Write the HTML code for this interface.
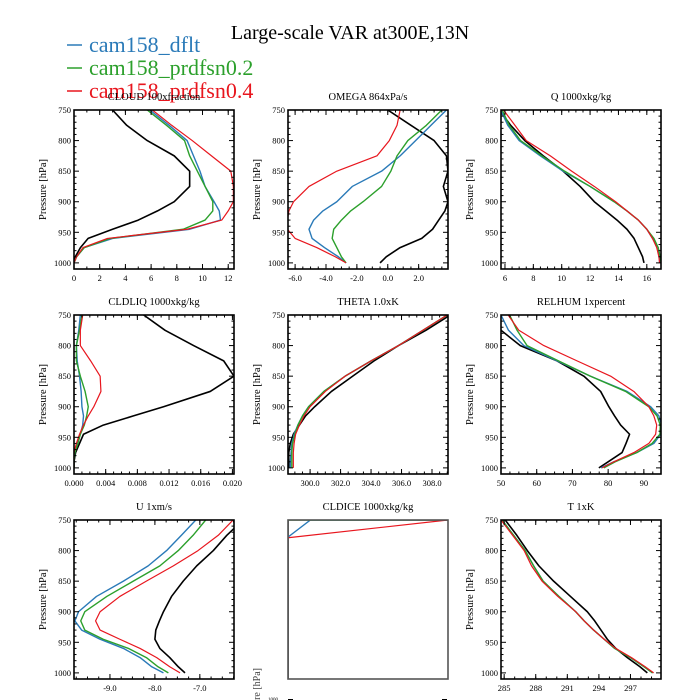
<!DOCTYPE html>
<html><head><meta charset="utf-8">
<style>
html,body{margin:0;padding:0;background:#fff;}
svg{display:block;font-family:"Liberation Serif",serif;}
</style></head>
<body>
<svg id="chart" width="700" height="700" viewBox="0 0 700 700" xmlns="http://www.w3.org/2000/svg">
<text x="350" y="39" font-size="20" text-anchor="middle">Large-scale VAR at300E,13N</text>
<g>
<line x1="67" y1="45" x2="82" y2="45" stroke="#2a7ab8" stroke-width="1.5"/>
<text x="89" y="52" font-size="22" fill="#2a7ab8">cam158_dflt</text>
<line x1="67" y1="68" x2="82" y2="68" stroke="#2ca02c" stroke-width="1.5"/>
<text x="89" y="75" font-size="22" fill="#2ca02c">cam158_prdfsn0.2</text>
<line x1="67" y1="91" x2="82" y2="91" stroke="#e8161e" stroke-width="1.5"/>
<text x="89" y="98" font-size="22" fill="#e8161e">cam158_prdfsn0.4</text>
</g>
</svg>
<script>
var levels = [750,775,800,825,850,875,900,915,930,945,960,975,990,1000];
var seriesNames = ['obs','dflt','prdfsn02','prdfsn04'];
var seriesColors = ['#000000','#2a7ab8','#2ca02c','#e8161e'];

var cloudObs  = [3.0,4.1,5.7,7.8,9.0,9.0,7.8,6.5,5.0,3.0,1.1,0.5,0.1,0];
var cloudDflt = [5.9,7.4,8.8,9.3,9.8,10.2,10.9,11.3,11.4,9.0,3.0,0.8,0.2,0];
var cloudP02  = [5.7,7.2,8.6,9.0,9.6,10.2,10.8,10.8,10.2,8.5,2.8,0.8,0.2,0];
var cloudP04  = [6.1,7.6,9.2,10.7,12.2,12.4,12.4,12.0,11.5,8.8,2.6,0.7,0.2,0];

var omegaObs  = [0.0,1.5,3.0,3.8,3.9,3.6,3.9,3.7,3.3,2.9,2.2,0.8,-0.1,-0.5];
var omegaDflt = [3.8,2.8,1.8,0.8,-0.4,-2.3,-3.3,-4.2,-4.8,-5.1,-4.9,-4.1,-3.2,-2.7];
var omegaP02  = [3.5,2.5,1.3,0.6,0.2,-0.4,-1.6,-2.4,-3.0,-3.5,-3.6,-3.3,-3.0,-2.7];
var omegaP04  = [0.8,0.6,0.1,-0.7,-3.3,-5.1,-6.1,-6.4,-6.5,-6.5,-6.0,-4.6,-3.4,-2.7];

var qObs  = [5.6,6.4,7.4,8.7,10.1,11.3,12.3,13.1,13.9,14.6,15.1,15.4,15.7,15.8];
var qDflt = [5.7,6.2,7.0,8.5,10.1,12.0,13.7,14.6,15.4,16.0,16.4,16.8,16.9,16.9];
var qP02  = [5.8,6.3,7.1,8.6,10.2,12.0,13.7,14.6,15.4,16.0,16.5,16.8,16.95,17.0];
var qP04  = [5.9,6.7,7.5,9.2,10.7,12.3,13.8,14.6,15.4,16.0,16.4,16.7,16.85,16.9];

var liqObs  = [0.0088,0.0115,0.0151,0.0189,0.0202,0.0172,0.0113,0.0075,0.0037,0.0012,0.0007,0.0002,0,0];
var liqDflt = [0.0008,0.0006,0.0003,0.0004,0.0007,0.0009,0.0010,0.0012,0.0011,0.0008,0.0004,0.0001,0,0];
var liqP02  = [0.0010,0.0007,0.0003,0.0003,0.0008,0.0014,0.0018,0.0016,0.0013,0.0008,0.0005,0.0001,0,0];
var liqP04  = [0.0011,0.0008,0.0008,0.0021,0.0033,0.0034,0.0025,0.0018,0.0012,0.0007,0.0003,0,0,0];

var thetaObs  = [309.2,307.6,305.8,304.2,302.8,301.4,300.3,299.7,299.3,298.9,298.7,298.6,298.6,298.6];
var thetaDflt = [309.0,307.4,305.8,304.0,302.3,300.9,299.9,299.5,299.2,298.95,298.8,298.75,298.7,298.7];
var thetaP02  = [309.0,307.4,305.8,304.0,302.3,300.9,299.9,299.5,299.2,299.0,298.85,298.8,298.8,298.8];
var thetaP04  = [309.0,307.4,305.8,304.0,302.3,301.0,300.0,299.6,299.3,299.05,298.95,298.9,298.9,298.9];

var rhObs  = [47.5,50,55.4,65.7,73.2,77.9,80.2,81.8,83.5,86.0,85.0,83.9,80.0,77.4];
var rhDflt = [50.0,52.1,56.4,65.7,75.0,85.3,91.9,94.2,95.0,94.7,92.8,88.0,81.6,78.0];
var rhP02  = [52.4,54.5,57.3,66.1,75.0,84.9,91.4,93.7,94.6,94.5,92.3,88.0,82.0,78.8];
var rhP04  = [52.0,55.0,62.0,71.3,80.7,87.2,91.4,92.8,93.6,93.3,91.4,87.2,81.6,78.3];

var uObs  = [-6.04,-6.4,-6.7,-7.07,-7.37,-7.63,-7.81,-7.9,-7.98,-8.0,-7.89,-7.67,-7.48,-7.33];
var uDflt = [-7.09,-7.41,-7.74,-8.15,-8.7,-9.3,-9.7,-9.78,-9.63,-9.22,-8.7,-8.33,-8.07,-7.81];
var uP02  = [-6.87,-7.15,-7.48,-7.89,-8.48,-9.07,-9.56,-9.65,-9.56,-9.15,-8.59,-8.19,-7.93,-7.7];
var uP04  = [-6.26,-6.59,-7.04,-7.59,-8.19,-8.78,-9.22,-9.32,-9.22,-8.78,-8.33,-7.96,-7.67,-7.44];

var iceLevelsObs = [750,1010];   var iceObs  = [0,0];
var iceLevelsDflt = [778,750,750]; var iceDflt = [0,0.14,1];
var iceLevelsP02 = [750,750];    var iceP02  = [0,1];
var iceLevelsP04 = [779,750];    var iceP04  = [0,1];

var tObs  = [285.1,286.2,287.2,288.3,289.7,291.3,292.9,293.6,294.2,294.8,295.6,296.7,297.9,298.6];
var tDflt = [284.8,285.9,287.0,287.8,288.7,290.2,291.8,292.6,293.5,294.5,295.5,297.0,298.3,299.1];
var tP02  = [284.8,285.9,287.0,287.8,288.7,290.2,291.8,292.6,293.5,294.5,295.5,297.0,298.3,299.1];
var tP04  = [284.7,285.8,286.9,287.6,288.6,290.1,291.8,292.6,293.5,294.5,295.6,297.1,298.4,299.2];

var cloudTicks = [0,2,4,6,8,10,12];
var omegaTicks = [-6,-4,-2,0,2];
var qTicks = [6,8,10,12,14,16];
var liqTicks = [0,0.004,0.008,0.012,0.016,0.020];
var thetaTicks = [300,302,304,306,308];
var rhTicks = [50,60,70,80,90];
var uTicks = [-9,-8,-7];
var tTicks = [285,288,291,294,297];
var pressureTicks = [750,800,850,900,950,1000];

var panels = [
 {name:'cloud', title:'CLOUD  100xfraction', col:0,row:0, xmin:0,xmax:12.45, ticks:cloudTicks, dec:0, minor:1, data:[cloudObs,cloudDflt,cloudP02,cloudP04]},
 {name:'omega', title:'OMEGA  864xPa/s', col:1,row:0, xmin:-6.46,xmax:3.9, ticks:omegaTicks, dec:1, minor:0.5, data:[omegaObs,omegaDflt,omegaP02,omegaP04]},
 {name:'q', title:'Q  1000xkg/kg', col:2,row:0, xmin:5.72,xmax:17.0, ticks:qTicks, dec:0, minor:0.5, data:[qObs,qDflt,qP02,qP04]},
 {name:'cldliq', title:'CLDLIQ  1000xkg/kg', col:0,row:1, xmin:0,xmax:0.0202, ticks:liqTicks, dec:3, minor:0.001, data:[liqObs,liqDflt,liqP02,liqP04]},
 {name:'theta', title:'THETA  1.0xK', col:1,row:1, xmin:298.55,xmax:309.05, ticks:thetaTicks, dec:1, minor:0.5, data:[thetaObs,thetaDflt,thetaP02,thetaP04]},
 {name:'relhum', title:'RELHUM  1xpercent', col:2,row:1, xmin:50,xmax:94.8, ticks:rhTicks, dec:0, minor:2.5, data:[rhObs,rhDflt,rhP02,rhP04]},
 {name:'u', title:'U  1xm/s', col:0,row:2, xmin:-9.8,xmax:-6.24, ticks:uTicks, dec:1, minor:0.25, data:[uObs,uDflt,uP02,uP04]},
 {name:'cldice', title:'CLDICE  1000xkg/kg', col:1,row:2, xmin:0,xmax:1, ticks:[], dec:0, minor:0, noY:true, data:[iceObs,iceDflt,iceP02,iceP04], lev:[iceLevelsObs,iceLevelsDflt,iceLevelsP02,iceLevelsP04]},
 {name:'t', title:'T  1xK', col:2,row:2, xmin:284.7,xmax:299.9, ticks:tTicks, dec:0, minor:1, data:[tObs,tDflt,tP02,tP04]}
];

var NS='http://www.w3.org/2000/svg';
var svg=document.getElementById('chart');
var colX=[74,288,501], rowY=[110,315,520], W=160, pMin=750, pMax=1010, H=159;
function mk(tag,attrs,parent){var e=document.createElementNS(NS,tag);for(var k in attrs)e.setAttribute(k,attrs[k]);(parent||svg).appendChild(e);return e;}

panels.forEach(function(pn,pi){
  var x0=colX[pn.col], y0=rowY[pn.row];
  var xs=function(v){return x0+(v-pn.xmin)/(pn.xmax-pn.xmin)*W;};
  var ys=function(p){return y0+(p-pMin)/(pMax-pMin)*H;};
  var g=mk('g',{});
  
  
  var cp=mk('clipPath',{id:'clip'+pi},g);
  mk('rect',{x:x0,y:y0,width:W,height:H},cp);
  var t=mk('text',{x:x0+W/2,y:y0-10,'font-size':'10.5','text-anchor':'middle'},g);
  t.textContent=pn.title;
  
  
  pn.data.forEach(function(arr,si){
    var lv=pn.lev?pn.lev[si]:levels;
    var d=arr.map(function(v,i){return (i?'L':'M')+xs(v).toFixed(2)+','+ys(lv[i]).toFixed(2);}).join(' ');
    var path=mk('path',{d:d,fill:'none',stroke:seriesColors[si],'stroke-width':si==0?1.6:(si==3?1.2:1.4),'clip-path':'url(#clip'+pi+')','stroke-linejoin':'round'},g);
    
    
  });
  var fr=mk('rect',{x:x0,y:y0,width:W,height:H,fill:'none',stroke:pn.noY?'#555':'#000','stroke-width':1.6},g);
  
  
  if(!pn.noY){
    for(var p=750;p<=1010;p+=10){
      var major=(p%50==0), L=major?5:2.5;
      mk('line',{x1:x0,x2:x0+L,y1:ys(p),y2:ys(p),stroke:'#000','stroke-width':1},g);
      mk('line',{x1:x0+W,x2:x0+W-L,y1:ys(p),y2:ys(p),stroke:'#000','stroke-width':1},g);
    }
    pressureTicks.forEach(function(p){
      var tl=mk('text',{x:x0-3,y:ys(p)+3,'font-size':'8.5','text-anchor':'end'},g);
      tl.textContent=p;
      
      
    });
    var yl=mk('text',{x:0,y:0,'font-size':'10.5','text-anchor':'middle',transform:'translate('+(x0-28)+','+(y0+H/2)+') rotate(-90)'},g);
    yl.textContent='Pressure [hPa]';
    
    
    if(pn.minor){
      var start=Math.ceil(pn.xmin/pn.minor)*pn.minor;
      for(var v=start;v<=pn.xmax+1e-9;v+=pn.minor){
        mk('line',{x1:xs(v),x2:xs(v),y1:y0+H,y2:y0+H-2.5,stroke:'#000','stroke-width':1},g);
        mk('line',{x1:xs(v),x2:xs(v),y1:y0,y2:y0+2.5,stroke:'#000','stroke-width':1},g);
      }
    }
    pn.ticks.forEach(function(v){
      mk('line',{x1:xs(v),x2:xs(v),y1:y0+H,y2:y0+H-5,stroke:'#000','stroke-width':1},g);
      mk('line',{x1:xs(v),x2:xs(v),y1:y0,y2:y0+5,stroke:'#000','stroke-width':1},g);
      var tl=mk('text',{x:xs(v),y:y0+H+12,'font-size':'8.5','text-anchor':'middle'},g);
      tl.textContent=v.toFixed(pn.dec);
      
      
    });
  }
});
var st=mk('text',{x:0,y:0,'font-size':'10','fill':'#444','text-anchor':'end',transform:'translate(260,668) rotate(-90)'});
st.textContent='Pressure [hPa]';


var s2=mk('text',{x:268,y:701,'font-size':'5'});
s2.textContent='1000';


mk('line',{x1:288,x2:293,y1:699.5,y2:699.5,stroke:'#000','stroke-width':1});
mk('line',{x1:442,x2:447,y1:699.5,y2:699.5,stroke:'#000','stroke-width':1});
</script>
</body></html>
